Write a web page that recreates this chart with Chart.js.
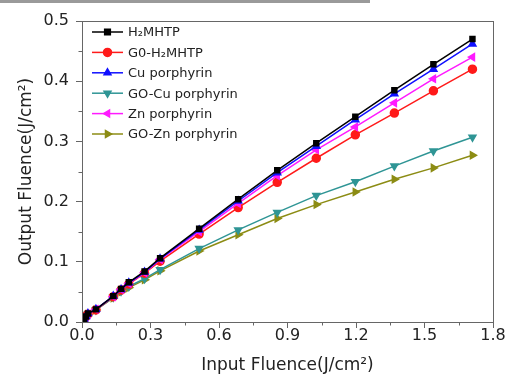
<!DOCTYPE html>
<html>
<head>
<meta charset="utf-8">
<script src="https://cdn.jsdelivr.net/npm/chart.js@4.4.1/dist/chart.umd.min.js"></script>
<style>
  html, body { margin: 0; padding: 0; background: #fff; }
  #wrap { width: 509px; height: 376px; position: relative; }
</style>
</head>
<body>
<div id="wrap"><canvas id="chart" width="509" height="376"></canvas></div>
<script>
// input fluence (J/cm2)
const inputFluence = [0.009, 0.017, 0.026, 0.061, 0.137, 0.171, 0.205, 0.274, 0.342, 0.513, 0.684, 0.855, 1.026, 1.197, 1.368, 1.539, 1.71];

const seriesNames = ['H\u2082MHTP', 'G0-H\u2082MHTP', 'Cu porphyrin', 'GO-Cu porphyrin', 'Zn porphyrin', 'GO-Zn porphyrin'];

const h2mhtp   = [0.005, 0.009, 0.014, 0.021, 0.043, 0.055, 0.066, 0.084, 0.106, 0.155, 0.204, 0.252, 0.297, 0.341, 0.385, 0.428, 0.470];
const goH2mhtp = [0.005, 0.009, 0.013, 0.020, 0.042, 0.053, 0.063, 0.081, 0.101, 0.146, 0.190, 0.232, 0.272, 0.311, 0.347, 0.384, 0.420];
const cuPorph  = [0.005, 0.009, 0.014, 0.021, 0.043, 0.054, 0.065, 0.083, 0.105, 0.153, 0.201, 0.248, 0.292, 0.336, 0.379, 0.420, 0.462];
const goCu     = [0.005, 0.009, 0.013, 0.020, 0.041, 0.051, 0.059, 0.072, 0.087, 0.122, 0.153, 0.182, 0.210, 0.233, 0.259, 0.284, 0.307];
const znPorph  = [0.005, 0.009, 0.013, 0.021, 0.042, 0.054, 0.064, 0.082, 0.104, 0.150, 0.197, 0.243, 0.286, 0.324, 0.364, 0.404, 0.440];
const goZn     = [0.005, 0.009, 0.013, 0.020, 0.040, 0.050, 0.057, 0.070, 0.085, 0.118, 0.145, 0.172, 0.195, 0.216, 0.237, 0.256, 0.277];

const xTicks = [0, 0.3, 0.6, 0.9, 1.2, 1.5, 1.8];
const yTicks = [0, 0.1, 0.2, 0.3, 0.4, 0.5];

const styles = [
  { color: '#000000', pointStyle: 'rect', rotation: 0 },
  { color: '#ff1a1a', pointStyle: 'circle', rotation: 0 },
  { color: '#1010ff', pointStyle: 'triangle', rotation: 0 },
  { color: '#2f9595', pointStyle: 'triangle', rotation: 180 },
  { color: '#ff1aff', pointStyle: 'triangle', rotation: 270 },
  { color: '#8c8c14', pointStyle: 'triangle', rotation: 90 }
];

const allSeries = [h2mhtp, goH2mhtp, cuPorph, goCu, znPorph, goZn];
const drawOrder = [5, 3, 1, 4, 2, 0]; // later = on top

const datasets = allSeries.map((vals, i) => ({
  label: seriesNames[i],
  data: vals.map((v, j) => ({ x: inputFluence[j], y: v })),
  borderColor: styles[i].color,
  backgroundColor: styles[i].color,
  pointStyle: styles[i].pointStyle,
  rotation: styles[i].rotation,
  pointRadius: i === 0 ? 3.5 : 4,
  borderWidth: 1.5,
  order: drawOrder.length - drawOrder.indexOf(i)
}));

const FONT = '"DejaVu Sans", Arial, sans-serif';

// frame, minor ticks, legend, top gray bar
const decor = {
  id: 'decor',
  beforeDraw(chart) {
    const ctx = chart.ctx;
    ctx.save();
    ctx.fillStyle = '#9a9a9a';
    ctx.fillRect(0, 0, 370, 3);
    ctx.restore();
  },
  afterDraw(chart) {
    const ctx = chart.ctx;
    const a = chart.chartArea;
    const xs = chart.scales.x, ys = chart.scales.y;
    ctx.save();
    ctx.strokeStyle = '#666';
    ctx.lineWidth = 1;
    ctx.strokeRect(a.left + 0.5, a.top + 0.5, a.right - a.left, a.bottom - a.top);
    ctx.beginPath();
    for (let v = 0.15; v < 1.8; v += 0.3) {
      const px = Math.round(xs.getPixelForValue(v)) + 0.5;
      ctx.moveTo(px, a.bottom);
      ctx.lineTo(px, a.bottom + 3.5);
    }
    for (let v = 0.05; v < 0.5; v += 0.1) {
      const py = Math.round(ys.getPixelForValue(v)) + 0.5;
      ctx.moveTo(a.left, py);
      ctx.lineTo(a.left - 3.5, py);
    }
    ctx.stroke();

    // legend
    ctx.font = '13px ' + FONT;
    ctx.textBaseline = 'middle';
    chart.data.datasets.forEach((ds, i) => {
      const y = 32 + i * 20.4;
      ctx.strokeStyle = ds.borderColor;
      ctx.fillStyle = ds.borderColor;
      ctx.lineWidth = 1.5;
      ctx.beginPath();
      ctx.moveTo(92, y);
      ctx.lineTo(123, y);
      ctx.stroke();
      Chart.helpers.drawPoint(ctx, {
        pointStyle: ds.pointStyle, rotation: ds.rotation,
        radius: 4, borderWidth: 1
      }, 107.5, y);
      ctx.fillStyle = '#222';
      ctx.fillText(ds.label, 128, y + 1);
    });
    ctx.restore();
  }
};

new Chart(document.getElementById('chart'), {
  type: 'line',
  data: { datasets },
  options: {
    responsive: false,
    animation: false,
    layout: { padding: { top: 21, right: 16, left: 0, bottom: 0 } },
    plugins: { legend: { display: false }, tooltip: { enabled: false } },
    elements: { line: { tension: 0 } },
    scales: {
      x: {
        type: 'linear',
        min: 0, max: 1.8,
        afterBuildTicks: s => { s.ticks = xTicks.map(v => ({ value: v })); },
        afterFit: s => { s.height = 54; },
        grid: { drawOnChartArea: false, tickLength: 6, color: '#666' },
        border: { color: '#666' },
        ticks: {
          color: '#222', font: { family: FONT, size: 16 }, padding: -2,
          maxRotation: 0, callback: v => Number(v).toFixed(1)
        },
        title: {
          display: true, text: 'Input Fluence(J/cm\u00b2)', color: '#222',
          font: { family: FONT, size: 17 }, padding: { top: 0, bottom: 0 }
        }
      },
      y: {
        type: 'linear',
        min: 0, max: 0.5,
        afterBuildTicks: s => { s.ticks = yTicks.map(v => ({ value: v })); },
        afterFit: s => { s.width = 82; },
        grid: { drawOnChartArea: false, tickLength: 6, color: '#666' },
        border: { color: '#666' },
        ticks: {
          color: '#222', font: { family: FONT, size: 16 }, padding: 7,
          callback: v => Number(v).toFixed(1)
        },
        title: {
          display: true, text: 'Output Fluence(J/cm\u00b2)', color: '#222',
          font: { family: FONT, size: 17 }, padding: { top: 16, bottom: 0 }
        }
      }
    }
  },
  plugins: [decor]
});
</script>
</body>
</html>
